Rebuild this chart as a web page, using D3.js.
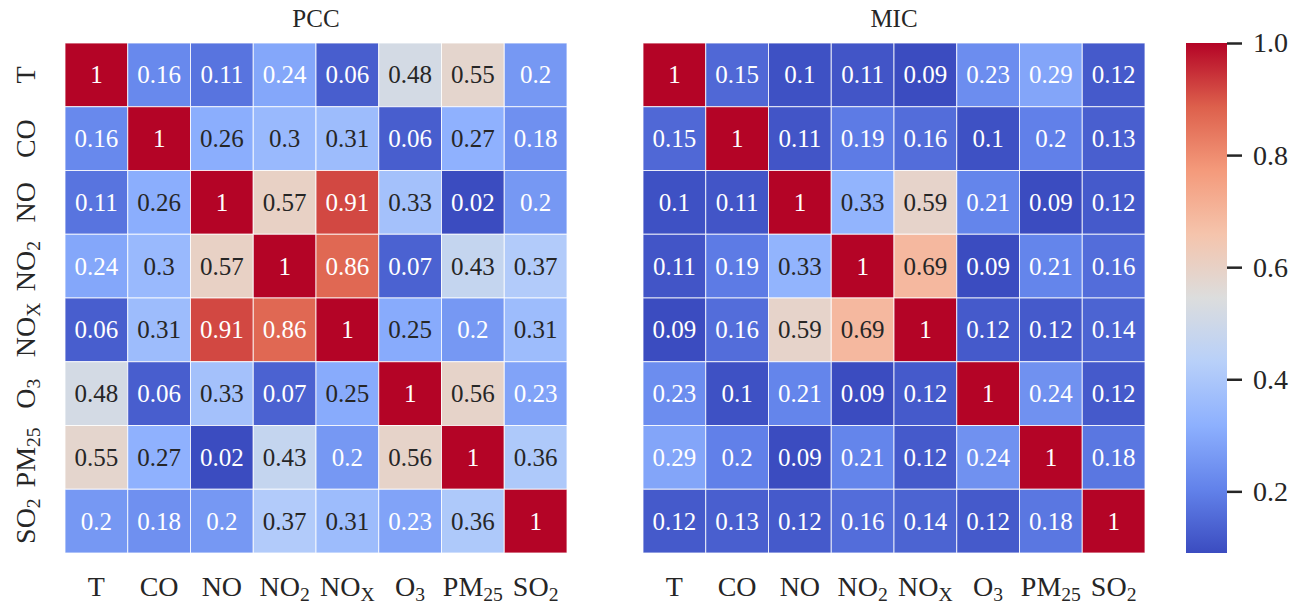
<!DOCTYPE html>
<html>
<head>
<meta charset="utf-8">
<script src="https://cdn.jsdelivr.net/npm/d3@7"></script>
<style>
	body { margin: 0; background: #fff; }
	text { font-family: "Liberation Serif", "Times New Roman", serif; fill: #262626; }
</style>
</head>
<body>
<svg id="chart" width="1299" height="607"></svg>
<script>
// variable names, split into base text + subscript
var labelBase = ['T', 'CO', 'NO', 'NO', 'NO', 'O', 'PM', 'SO'];
var labelSub = ['', '', '', '2', 'X', '3', '25', '2'];

// Pearson correlation coefficients
var pccValues = [
	[1, 0.16, 0.11, 0.24, 0.06, 0.48, 0.55, 0.2],
	[0.16, 1, 0.26, 0.3, 0.31, 0.06, 0.27, 0.18],
	[0.11, 0.26, 1, 0.57, 0.91, 0.33, 0.02, 0.2],
	[0.24, 0.3, 0.57, 1, 0.86, 0.07, 0.43, 0.37],
	[0.06, 0.31, 0.91, 0.86, 1, 0.252, 0.2, 0.31],
	[0.48, 0.06, 0.33, 0.07, 0.252, 1, 0.56, 0.23],
	[0.55, 0.27, 0.02, 0.43, 0.2, 0.56, 1, 0.36],
	[0.2, 0.18, 0.2, 0.37, 0.31, 0.23, 0.36, 1]
];

// maximal information coefficients
var micValues = [
	[1, 0.15, 0.1, 0.11, 0.09, 0.23, 0.29, 0.12],
	[0.15, 1, 0.11, 0.19, 0.16, 0.1, 0.2, 0.13],
	[0.1, 0.11, 1, 0.33, 0.59, 0.21, 0.09, 0.12],
	[0.11, 0.19, 0.33, 1, 0.69, 0.09, 0.21, 0.16],
	[0.09, 0.16, 0.59, 0.69, 1, 0.12, 0.12, 0.14],
	[0.23, 0.1, 0.21, 0.09, 0.12, 1, 0.24, 0.12],
	[0.29, 0.2, 0.09, 0.21, 0.12, 0.24, 1, 0.18],
	[0.12, 0.13, 0.12, 0.16, 0.14, 0.12, 0.18, 1]
];

var colorbarTicks = [0.2, 0.4, 0.6, 0.8, 1.0];

// matplotlib coolwarm sampled at 9 points
var coolwarmStops = ['#3b4cc0', '#6282ea', '#8db0fe', '#b8d0f9', '#dcdddd',
	'#f5c4ac', '#f49a7b', '#dd604c', '#b40426'];

var coolwarm = d3.scaleLinear()
	.domain(d3.range(coolwarmStops.length).map(function(i) { return i / (coolwarmStops.length - 1); }))
	.range(coolwarmStops)
	.interpolate(d3.interpolateRgb)
	.clamp(true);

var svg = d3.select('#chart');
var plotTop = 43, plotBottom = 553;
var fmt = d3.format('.2~g');

// seaborn style: white text on dark cells
function luminance(c) {
	var rgb = d3.rgb(c);
	var lin = [rgb.r, rgb.g, rgb.b].map(function(v) {
		v = v / 255;
		return v <= 0.03928 ? v / 12.92 : Math.pow((v + 0.055) / 1.055, 2.4);
	});
	return 0.2126 * lin[0] + 0.7152 * lin[1] + 0.0722 * lin[2];
}

function addLabel(sel, i, size) {
	sel.append('tspan').text(labelBase[i]);
	if (labelSub[i]) {
		sel.append('tspan')
			.attr('font-size', size * 0.7)
			.attr('dy', size * 0.18)
			.text(labelSub[i]);
	}
}

function drawHeatmap(values, left, right, title, showY) {
	var x = d3.scaleBand().domain(d3.range(8)).range([left, right]);
	var y = d3.scaleBand().domain(d3.range(8)).range([plotTop, plotBottom]);
	var all = d3.merge(values);
	var norm = d3.scaleLinear().domain(d3.extent(all)).range([0, 1]);

	var cells = [];
	values.forEach(function(row, r) {
		row.forEach(function(v, c) { cells.push({r: r, c: c, v: v}); });
	});

	var g = svg.append('g');
	g.selectAll('rect').data(cells).enter().append('rect')
		.attr('x', function(d) { return x(d.c); })
		.attr('y', function(d) { return y(d.r); })
		.attr('width', x.bandwidth())
		.attr('height', y.bandwidth())
		.attr('fill', function(d) { return coolwarm(norm(d.v)); })
		.attr('stroke', '#fff')
		.attr('stroke-opacity', 0.8)
		.attr('stroke-width', 1);

	g.selectAll('text.annot').data(cells).enter().append('text')
		.attr('class', 'annot')
		.attr('x', function(d) { return x(d.c) + x.bandwidth() / 2; })
		.attr('y', function(d) { return y(d.r) + y.bandwidth() / 2; })
		.attr('text-anchor', 'middle')
		.attr('dominant-baseline', 'central')
		.attr('font-size', 25)
		.style('fill', function(d) { return luminance(coolwarm(norm(d.v))) > 0.408 ? '#262626' : '#fff'; })
		.text(function(d) { return fmt(d.v); });

	//title
	svg.append('text')
		.attr('x', (left + right) / 2)
		.attr('y', 27)
		.attr('text-anchor', 'middle')
		.attr('font-size', 25)
		.text(title);

	//x tick labels
	d3.range(8).forEach(function(i) {
		var t = svg.append('text')
			.attr('x', x(i) + x.bandwidth() / 2)
			.attr('y', 596)
			.attr('text-anchor', 'middle')
			.attr('font-size', 28);
		addLabel(t, i, 28);
	});

	//y tick labels, rotated
	if (showY) {
		d3.range(8).forEach(function(i) {
			var t = svg.append('text')
				.attr('transform', 'translate(35,' + (y(i) + y.bandwidth() / 2) + ') rotate(-90)')
				.attr('text-anchor', 'middle')
				.attr('font-size', 28);
			addLabel(t, i, 28);
		});
	}
	return norm;
}

drawHeatmap(pccValues, 65, 567, 'PCC', true);
var micNorm = drawHeatmap(micValues, 643, 1145, 'MIC', false);

//colorbar uses the MIC range
var cbScale = d3.scaleLinear().domain(micNorm.domain()).range([plotBottom, plotTop]);
var grad = svg.append('defs').append('linearGradient')
	.attr('id', 'cb')
	.attr('x1', 0).attr('y1', 1).attr('x2', 0).attr('y2', 0);
grad.selectAll('stop').data(coolwarmStops).enter().append('stop')
	.attr('offset', function(d, i) { return i / (coolwarmStops.length - 1); })
	.attr('stop-color', function(d) { return d; });

svg.append('rect')
	.attr('x', 1186)
	.attr('y', plotTop)
	.attr('width', 41)
	.attr('height', plotBottom - plotTop)
	.attr('fill', 'url(#cb)');

var cbAxis = svg.append('g')
	.attr('transform', 'translate(1227,0)')
	.call(d3.axisRight(cbScale)
		.tickValues(colorbarTicks)
		.tickFormat(d3.format('.1f'))
		.tickSize(15)
		.tickPadding(11));
cbAxis.select('.domain').remove();
cbAxis.selectAll('line').attr('stroke', '#262626').attr('stroke-width', 2.5);
cbAxis.selectAll('text')
	.attr('font-size', 28)
	.attr('font-family', '"Liberation Serif", serif')
	.style('fill', '#262626');
</script>
</body>
</html>
